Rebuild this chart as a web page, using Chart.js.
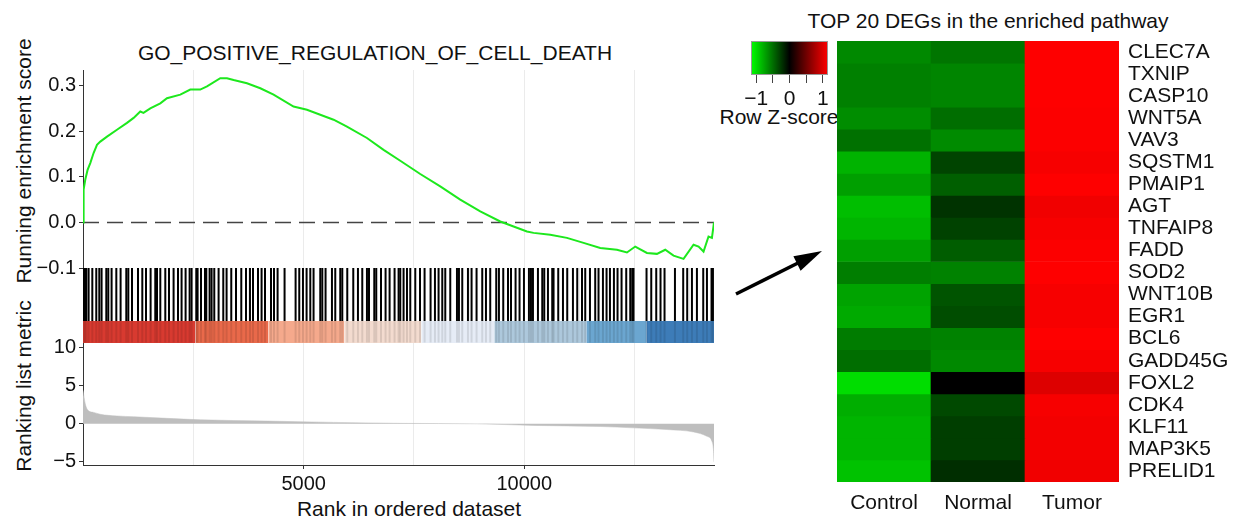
<!DOCTYPE html>
<html><head><meta charset="utf-8">
<script src="https://cdn.jsdelivr.net/npm/chart.js@4.4.1/dist/chart.umd.min.js"></script>
<style>
html,body{margin:0;padding:0;background:#fff}
body{width:1240px;height:521px;overflow:hidden;position:relative;font-family:"Liberation Sans",Arial,Helvetica,sans-serif;color:#000}
canvas{position:absolute}
.t{position:absolute;white-space:nowrap;font-size:21px;line-height:21px;color:#111}
.c{transform:translateX(-50%)}
.rot{transform:translate(-50%,-50%) rotate(-90deg)}
</style></head><body>
<div class="t c" style="left:375px;top:42px">GO_POSITIVE_REGULATION_OF_CELL_DEATH</div>
<div class="t c" style="left:988px;top:10px">TOP 20 DEGs in the enriched pathway</div>
<div class="t rot" style="left:22.5px;top:161px">Running enrichment score</div>
<div class="t rot" style="left:22.5px;top:386px">Ranking list metric</div>
<div class="t c" style="left:409px;top:498px">Rank in ordered dataset</div>
<div class="t c" style="left:779px;top:106px">Row Z-score</div>
<canvas id="cTop" width="740" height="224" style="left:0;top:60px"></canvas>
<canvas id="cHits" width="740" height="85" style="left:0;top:258px"></canvas>
<canvas id="cMetric" width="740" height="188" style="left:0;top:333px"></canvas>
<canvas id="cKey" width="160" height="80" style="left:700px;top:30px"></canvas>
<canvas id="cHeat" width="410" height="491" style="left:830px;top:30px"></canvas>
<svg width="1240" height="521" style="position:absolute;left:0;top:0">
  <line x1="736" y1="294" x2="804" y2="260" stroke="#000" stroke-width="3.5"/>
  <polygon points="822,251 800.6,270.7 793.4,256.3" fill="#000"/>
</svg>
<script>
// ---------------- data ----------------
const RANK_MAX = 14300;
const esRank  = [0,14,52,104,165,240,317,392,544,770,997,1147,1298,1370,1525,1752,1903,2205,2431,2658,2810,3111,3263,3413,3716,4018,4319,4772,5076,5377,5679,5982,6435,6812,7190,7643,8096,8549,9003,9456,9758,10061,10211,10589,10967,11344,11722,12100,12327,12515,12780,13007,13195,13383,13610,13836,13950,14063,14176,14253,14300];
const esScore = [0,0.072,0.094,0.115,0.130,0.152,0.170,0.177,0.188,0.203,0.218,0.229,0.243,0.240,0.250,0.261,0.272,0.280,0.291,0.291,0.298,0.316,0.316,0.312,0.305,0.294,0.280,0.254,0.247,0.236,0.225,0.210,0.185,0.159,0.135,0.106,0.079,0.050,0.024,0.002,-0.009,-0.020,-0.023,-0.027,-0.034,-0.045,-0.056,-0.060,-0.066,-0.053,-0.067,-0.069,-0.060,-0.073,-0.080,-0.049,-0.053,-0.064,-0.031,-0.034,0.000];
const metricRank  = [0,52,127,240,392,770,1147,1903,2658,4169,5679,7190,8928,10211,11722,12477,13233,13836,14140,14253,14290,14300];
const metricValue = [4.4,2.6,1.7,1.5,1.25,1.03,0.93,0.72,0.53,0.36,0.19,0.06,0,-0.21,-0.35,-0.53,-0.75,-1.07,-1.64,-2.3,-3.6,-5.0];
const hitRanks = [14,45,75,127,211,301,369,421,528,573,648,755,852,981,1027,1110,1246,1344,1428,1532,1638,1677,1752,1865,1949,2053,2153,2234,2325,2416,2461,2567,2597,2674,2765,2794,2869,2914,2975,3073,3179,3254,3360,3467,3587,3694,3784,3852,3966,4047,4124,4260,4328,4410,4568,
4818,4901,4985,5067,5151,5225,5377,5423,5497,5642,5717,5830,5876,5989,6125,6231,6329,6435,6481,6601,6646,6753,6857,6948,7061,7152,7190,7265,7342,7417,7530,7637,7741,7877,7976,8058,8142,8210,8323,8475,8520,8595,8724,8806,8919,9048,9132,9229,9365,9426,
9524,9631,9699,9803,9893,9993,10106,10152,10197,10310,10408,10453,10537,10634,10664,10770,10877,10974,11103,11201,11308,11382,11489,11608,11683,11783,11865,11942,12032,12114,12205,12311,12402,12447,12477,12771,12878,12991,13088,13179,13415,13602,13693,13800,13913,14056,14140,14244,14276];
const bandBreaks = [0,2549,4199,5921,7666,9320,11405,12764,14300];
const esTicks = [-0.1,0,0.1,0.2,0.3];
const metricTicks = [-5,0,5,10];
const rankGridTicks = [2500,5000,7500,10000,12500];
const rankLabelTicks = [5000,10000];

const genes = ['CLEC7A','TXNIP','CASP10','WNT5A','VAV3','SQSTM1','PMAIP1','AGT','TNFAIP8','FADD','SOD2','WNT10B','EGR1','BCL6','GADD45G','FOXL2','CDK4','KLF11','MAP3K5','PRELID1'];
const groups = ['Control','Normal','Tumor'];
const zControl = [-0.62,-0.58,-0.58,-0.64,-0.51,-0.81,-0.72,-0.86,-0.82,-0.72,-0.57,-0.74,-0.77,-0.56,-0.50,-1.00,-0.79,-0.82,-0.82,-0.88];
const zNormal  = [-0.53,-0.60,-0.60,-0.50,-0.63,-0.31,-0.43,-0.23,-0.30,-0.42,-0.59,-0.38,-0.35,-0.59,-0.62,0.00,-0.33,-0.28,-0.28,-0.21];
const zTumor   = [1.15,1.15,1.15,1.14,1.14,1.12,1.15,1.09,1.12,1.14,1.15,1.12,1.12,1.15,1.12,1.00,1.12,1.10,1.10,1.09];
const keyTicks = [-1,-0.5,0,0.5,1];
const keyLabelTicks = [-1,0,1];
const Z_LIM = 1.1547;

// ---------------- styles ----------------
const bandColors = ['#d83a30','#e9694a','#f5a98c','#f3dbcf','#e6ecf6','#adc8dc','#6ba6d0','#3d7cb8'];
const FONT = '"Liberation Sans", Arial, Helvetica, sans-serif';
Chart.defaults.font.family = FONT;
Chart.defaults.color = '#111';
const AXIS_W = 83, PAD_R = 26;
const fixW = w => s => { s.width = w; s.paddingTop = 0; s.paddingBottom = 0; };
const fixH = h => s => { s.height = h; s.paddingLeft = 0; s.paddingRight = 0; };
const setTicks = arr => s => { s.ticks = arr.map(v => ({value: v})); };
const minus = v => (v < 0 ? '\u2212' + Math.abs(v) : String(v));
const base = {responsive:false, animation:false, devicePixelRatio:1, events:[],
  plugins:{legend:{display:false}, tooltip:{enabled:false}}};
const gridX = (extra) => Object.assign({type:'linear', min:0, max:RANK_MAX, offset:false,
  afterBuildTicks: setTicks(rankGridTicks), ticks:{display:false},
  grid:{color:'#ebebeb', lineWidth:1, drawTicks:false}, border:{display:false}, afterFit: fixH(0)}, extra||{});
const leftY = (extra) => Object.assign({
  grid:{drawOnChartArea:false, tickLength:4, tickColor:'#333', tickWidth:1},
  border:{display:true, color:'#333', width:1}, afterFit: fixW(AXIS_W)}, extra);

// ---------------- running enrichment score ----------------
new Chart(document.getElementById('cTop'), {
  type:'line',
  data:{datasets:[
    {data: esRank.map((r,i)=>({x:r, y:esScore[i]})), borderColor:'#1de81d', borderWidth:2, pointRadius:0, tension:0},
    {data: [{x:0,y:0},{x:RANK_MAX,y:0}], borderColor:'#444', borderWidth:1.5, borderDash:[16,8], pointRadius:0}
  ]},
  options: Object.assign({}, base, {
    layout:{padding:{top:10, right:PAD_R, left:0, bottom:16}},
    scales:{
      x: gridX(),
      y: leftY({min:-0.1, max:0.334, afterBuildTicks:setTicks(esTicks),
        ticks:{font:{size:20}, padding:3, callback:v=> (v<0?'\u2212':'') + Math.abs(v).toFixed(1)}})
    }
  })
});

// ---------------- hits + colour band ----------------
const BAND_TOP = 0.293;
const bandSets = bandColors.map((col,i)=>({type:'line', order:3,
  data:[{x:bandBreaks[i], y:BAND_TOP},{x:bandBreaks[i+1], y:BAND_TOP}],
  fill:'origin', backgroundColor:col, borderWidth:0, pointRadius:0}));
new Chart(document.getElementById('cHits'), {
  type:'bar',
  data:{datasets:[
    {order:1, data: hitRanks.map(r=>({x:r, y:[BAND_TOP,1]})), backgroundColor:'#000', barThickness:2, grouped:false, inflateAmount:0},
    {order:2, data: hitRanks.map(r=>({x:r, y:[0,BAND_TOP]})), backgroundColor:'rgba(0,0,0,0.10)', barThickness:2, grouped:false, inflateAmount:0},
    ...bandSets
  ]},
  options: Object.assign({}, base, {
    layout:{padding:{top:10, right:PAD_R, left:0, bottom:0}},
    scales:{
      x: gridX(),
      y: leftY({min:0, max:1, afterBuildTicks:setTicks([0,1]), ticks:{display:false}})
    }
  })
});

// ---------------- ranking list metric ----------------
new Chart(document.getElementById('cMetric'), {
  type:'line',
  data:{datasets:[
    {data: metricRank.map((r,i)=>({x:r, y:metricValue[i]})), fill:'origin', backgroundColor:'#bebebe',
     borderColor:'#bebebe', borderWidth:0.5, pointRadius:0, cubicInterpolationMode:'monotone'}
  ]},
  options: Object.assign({}, base, {
    layout:{padding:{top:10, right:PAD_R, left:0, bottom:0}},
    scales:{
      x: {type:'linear', min:0, max:RANK_MAX, offset:false,
        afterBuildTicks: setTicks(rankGridTicks),
        ticks:{font:{size:20}, padding:3, autoSkip:false, maxRotation:0,
          callback:v => rankLabelTicks.includes(v) ? String(v) : ''},
        grid:{color:'#ebebeb', lineWidth:1, tickLength:4,
          tickColor: c => (c.tick && rankLabelTicks.includes(c.tick.value)) ? '#333' : 'rgba(0,0,0,0)'},
        border:{display:true, color:'#333', width:1}, afterFit: fixH(56)},
      y: leftY({min:-5.4, max:10.6, afterBuildTicks:setTicks(metricTicks),
        ticks:{font:{size:20}, padding:3, callback:v=>minus(v)}})
    }
  })
});

// ---------------- colour key ----------------
new Chart(document.getElementById('cKey'), {
  type:'bar',
  data:{labels:['key'], datasets:[{data:[[-Z_LIM, Z_LIM]],
    backgroundColor: c => { const a = c.chart.chartArea; if (!a) return '#000';
      const g = c.chart.ctx.createLinearGradient(a.left,0,a.right,0);
      g.addColorStop(0,'#00ff00'); g.addColorStop(0.5,'#000000'); g.addColorStop(1,'#ff0000'); return g; },
    borderColor:'#999', borderWidth:1, borderSkipped:false, barPercentage:1, categoryPercentage:1, inflateAmount:0}]},
  options: Object.assign({}, base, {
    indexAxis:'y',
    layout:{padding:{top:11, right:32, left:51, bottom:0}},
    scales:{
      x:{type:'linear', min:-Z_LIM, max:Z_LIM, afterBuildTicks:setTicks(keyTicks),
        ticks:{font:{size:21}, padding:4, autoSkip:false, maxRotation:0,
          callback:v => keyLabelTicks.includes(v) ? minus(v) : ''},
        grid:{drawOnChartArea:false, tickLength:8, tickColor:'#444', tickWidth:1},
        border:{display:false},
        afterFit: fixH(35)},
      y:{type:'category', display:false}
    }
  })
});

// ---------------- heatmap ----------------
function zColor(z){
  const t = Math.max(-1, Math.min(1, z / Z_LIM));
  const v = Math.round(Math.abs(t) * 255);
  return t < 0 ? `rgb(0,${v},0)` : `rgb(${v},0,0)`;
}
const heatSets = genes.map((g,i)=>({
  label:g, data:[1,1,1], yAxisID:'y', stack:'h',
  backgroundColor:[zControl[i], zNormal[i], zTumor[i]].map(zColor),
  borderWidth:0, barPercentage:1, categoryPercentage:1
}));
new Chart(document.getElementById('cHeat'), {
  type:'bar',
  data:{labels:groups, datasets:heatSets},
  options: Object.assign({}, base, {
    layout:{padding:{top:11, right:0, left:7, bottom:0}},
    scales:{
      x:{stacked:true, grid:{display:false, drawTicks:false}, border:{display:false},
        ticks:{font:{size:21}, padding:9, color:'#111'}, afterFit: fixH(39)},
      y:{type:'linear', stacked:true, min:0, max:genes.length, reverse:true, display:false},
      yg:{type:'category', labels:genes, position:'right', offset:true,
        grid:{display:false, drawTicks:false}, border:{display:false},
        ticks:{font:{size:21}, padding:9, color:'#111', autoSkip:false},
        afterFit: fixW(121)}
    }
  })
});
</script>
</body></html>
